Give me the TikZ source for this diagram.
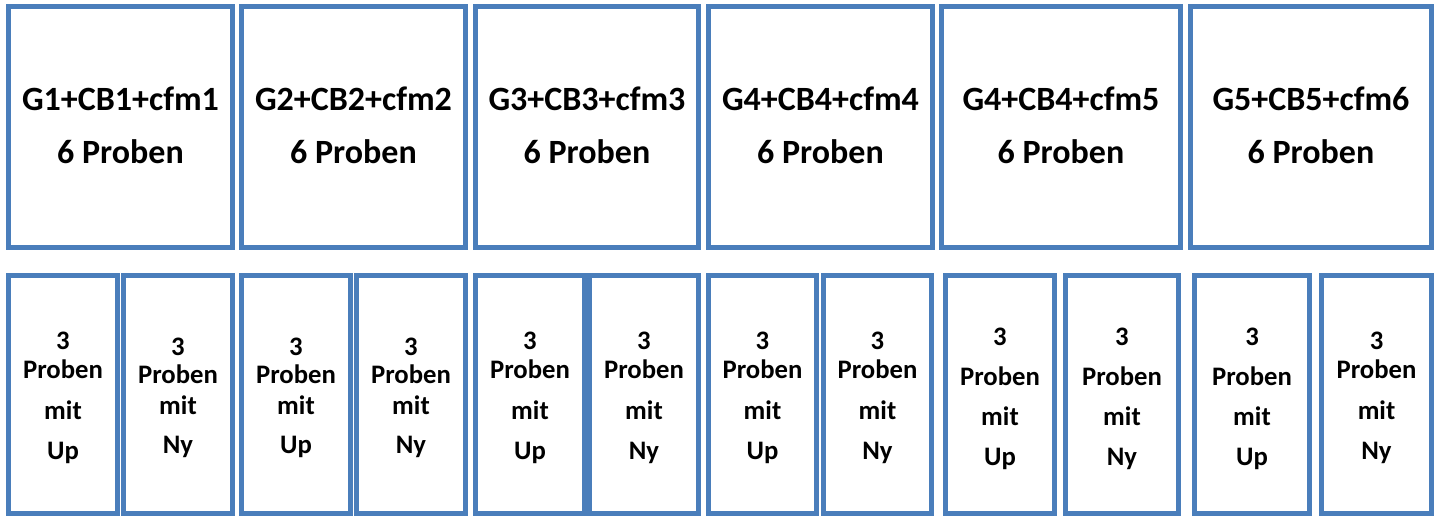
\documentclass[tikz,border=0pt]{standalone}
\usepackage{fontspec}
\setmainfont{Carlito}
\definecolor{boxblue}{HTML}{4A7EBB}
\begin{document}
\begin{tikzpicture}[x=1pt,y=-1pt,
  box/.style={draw=boxblue,line width=5pt,fill=white,inner sep=0pt,outer sep=0pt,anchor=north west},
  bigtxt/.style={font=\fontsize{34}{40}\selectfont\bfseries,inner sep=0pt,anchor=base},
  smalltxt/.style={font=\fontsize{26.7}{32}\selectfont\bfseries,inner sep=0pt,anchor=base}]
\useasboundingbox (0,0) rectangle (1440,517);
% top row
\foreach \i/\l/\r/\t in {1/6/235/G1+CB1+cfm1, 2/239/468/G2+CB2+cfm2, 3/473/701/G3+CB3+cfm3,
                         4/706/935/G4+CB4+cfm4, 5/939/1183/G4+CB4+cfm5, 6/1188/1434/G5+CB5+cfm6} {
  \node[box,minimum width={\r-\l-5},minimum height=241] (T\i) at (\l+2.5,6.5) {};
  \node[bigtxt] (T\i a) at ({(\l+\r)/2},110) {\t};
  \node[bigtxt] (T\i b) at ({(\l+\r)/2},163.3) {6 Proben};
}
% bottom row
\foreach \i/\l/\r/\w/\a/\b/\c/\d in {
   1/6/120/Up/349.5/378.5/419.5/459.5,
   2/121/235/Ny/355/383.5/414.3/453.5,
   3/239/353/Up/355/383.5/414.3/453.5,
   4/354/468/Ny/355/383.5/414.3/453.5,
   5/473/587/Up/349.5/378.5/419.5/459.5,
   6/587/701/Ny/349.5/378.5/419.5/459.5,
   7/706/819/Up/349.5/378.5/419.5/459.5,
   8/821/934/Ny/349.5/378.5/419.5/459.5,
   9/943/1057/Up/345/385/425/465,
   10/1063/1181/Ny/345/385/425/465,
   11/1192/1312/Up/345/385/425/465,
   12/1319/1434/Ny/349.5/378.5/419.5/459.5} {
  \node[box,minimum width={\r-\l-5},minimum height=238] (B\i) at (\l+2.5,275.5) {};
  \node[smalltxt] (B\i a) at ({(\l+\r)/2},\a) {3};
  \node[smalltxt] (B\i b) at ({(\l+\r)/2},\b) {Proben};
  \node[smalltxt] (B\i c) at ({(\l+\r)/2},\c) {mit};
  \node[smalltxt] (B\i d) at ({(\l+\r)/2},\d) {\w};
}
\end{tikzpicture}
\end{document}
